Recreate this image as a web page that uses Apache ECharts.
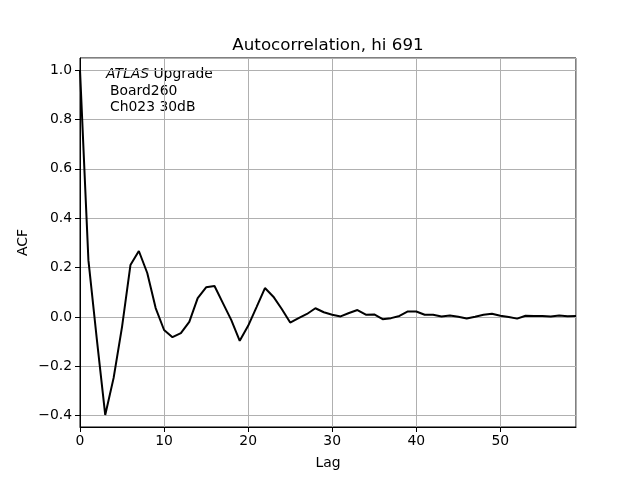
<!DOCTYPE html>
<html>
<head>
<meta charset="utf-8">
<script src="https://cdn.jsdelivr.net/npm/echarts@6/dist/echarts.min.js"></script>
<style>html,body{margin:0;padding:0;background:#fff;}#c{width:640px;height:480px;}</style>
</head>
<body>
<div id="c"></div>
<script>
var lags = [];
for (var i = 0; i < 60; i++) lags.push(i);
var acf = [1.0, 0.23, -0.09, -0.397, -0.247, -0.04, 0.21, 0.267, 0.178, 0.036,
  -0.053, -0.082, -0.066, -0.02, 0.076, 0.12, 0.125, 0.056, -0.013, -0.097,
  -0.036, 0.04, 0.117, 0.082, 0.032, -0.023, -0.005, 0.012, 0.035, 0.019,
  0.009, 0.002, 0.016, 0.028, 0.009, 0.01, -0.009, -0.005, 0.004, 0.022,
  0.022, 0.009, 0.009, 0.002, 0.006, 0.001, -0.006, 0.001, 0.009, 0.013,
  0.005, 0.0, -0.007, 0.005, 0.004, 0.004, 0.002, 0.006, 0.003, 0.004];
var titleText = 'Autocorrelation, hi 691';
var xLabel = 'Lag';
var yLabel = 'ACF';
var noteLines = ['Board260', 'Ch023 30dB'];

var font = 'DejaVu Sans';
var chart = echarts.init(document.getElementById('c'), null, {renderer: 'canvas'});
var pts = lags.map(function (l, i) { return [l, acf[i]]; });
function fmt(v) { var s = v.toFixed(1); return s.replace('-', '\u2212'); }
chart.setOption({
  animation: false,
  backgroundColor: '#fff',
  title: {
    text: titleText, left: 323, top: 32, textAlign: 'center',
    textStyle: {fontFamily: font, fontSize: 16.7, fontWeight: 'normal', color: '#000'}
  },
  grid: {left: 80, right: 64, top: 58, bottom: 53, show: true, borderColor: '#000', borderWidth: 1, backgroundColor: 'transparent'},
  xAxis: {
    type: 'value', min: 0, max: 59, interval: 10,
    name: xLabel, nameLocation: 'middle', nameGap: 29,
    nameTextStyle: {fontFamily: font, fontSize: 13.9, color: '#000'},
    axisLine: {show: true, onZero: false, lineStyle: {color: '#000', width: 1}},
    axisTick: {show: true, length: 5, lineStyle: {color: '#000', width: 1}},
    axisLabel: {fontFamily: font, fontSize: 13.9, color: '#000', margin: 7, showMaxLabel: false},
    splitLine: {show: true, lineStyle: {color: '#b0b0b0', width: 1}}
  },
  yAxis: {
    type: 'value', min: -0.446, max: 1.049, splitNumber: 7, minInterval: 0.2, maxInterval: 0.2,
    name: yLabel, nameLocation: 'middle', nameGap: 50, nameRotate: 90, nameMoveOverlap: false,
    nameTextStyle: {fontFamily: font, fontSize: 13.9, color: '#000'},
    axisLine: {show: true, onZero: false, lineStyle: {color: '#000', width: 1}},
    axisTick: {show: true, length: 5, lineStyle: {color: '#000', width: 1}},
    axisLabel: {fontFamily: font, fontSize: 13.9, color: '#000', margin: 8, showMinLabel: false, showMaxLabel: false, formatter: fmt},
    splitLine: {show: true, lineStyle: {color: '#b0b0b0', width: 1}}
  },
  series: [{
    type: 'line', data: pts, symbol: 'none', clip: true,
    lineStyle: {color: '#000', width: 2}
  }],
  graphic: [
    {type: 'text', left: 106, top: 67, style: {text: '{i|ATLAS} Upgrade', fontFamily: font, fontSize: 13.9, fill: '#000',
      rich: {i: {fontStyle: 'italic', fontFamily: font, fontSize: 13.9}}}},
    {type: 'text', left: 110, top: 84, style: {text: noteLines[0], fontFamily: font, fontSize: 13.9, fill: '#000'}},
    {type: 'text', left: 110, top: 100, style: {text: noteLines[1], fontFamily: font, fontSize: 13.9, fill: '#000'}}
  ]
});
</script>
</body>
</html>
